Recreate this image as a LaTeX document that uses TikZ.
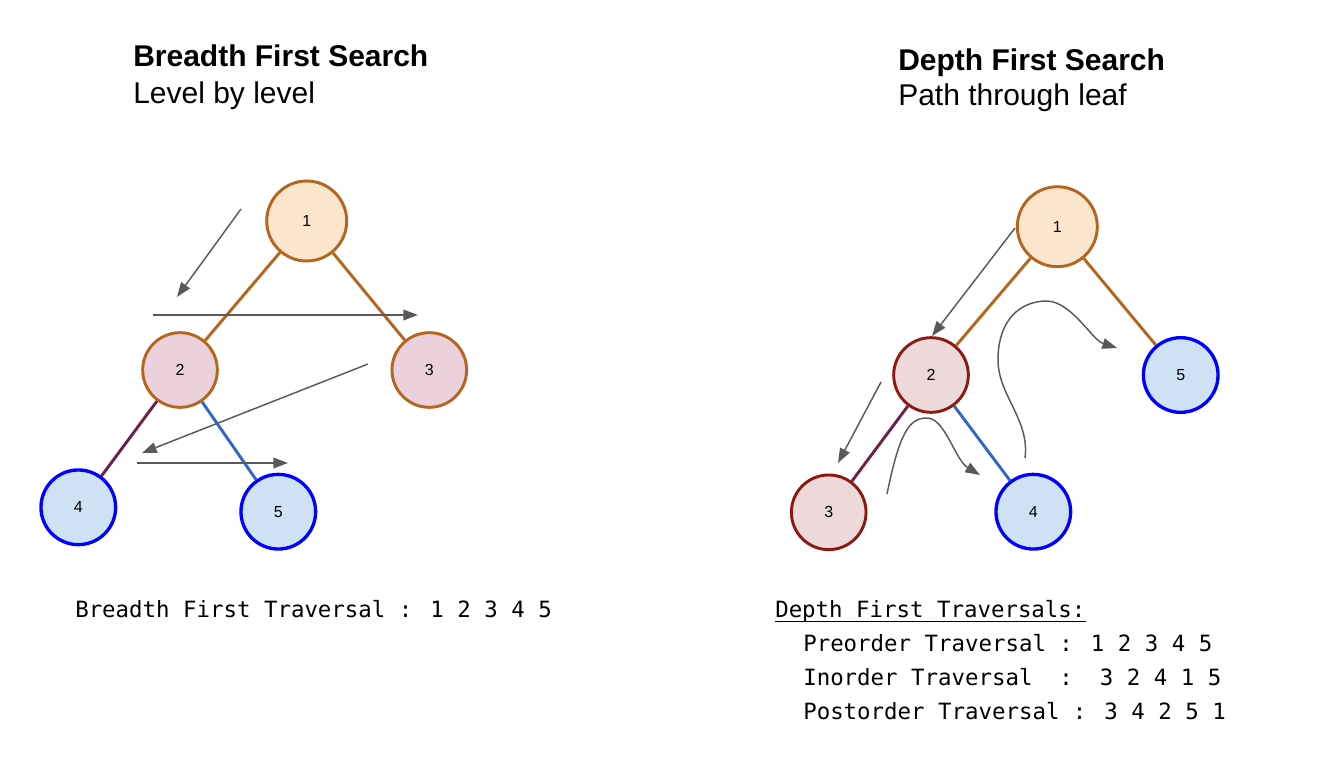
\documentclass[tikz,border=0pt]{standalone}
\usepackage{fontspec}
\setmainfont{Liberation Sans}
\newfontfamily\monofont{DejaVu Sans Mono}
\usetikzlibrary{arrows.meta}
\definecolor{orbrd}{HTML}{B4661F}
\definecolor{orfill}{HTML}{FCE5CD}
\definecolor{magfill}{HTML}{EAD1DC}
\definecolor{bluefill}{HTML}{CFE2F3}
\definecolor{leafbrd}{HTML}{0000FF}
\definecolor{purpedge}{HTML}{6B2246}
\definecolor{blueedge}{HTML}{3366CC}
\definecolor{redfill}{HTML}{EDD9D9}
\definecolor{redbrd}{HTML}{8B1A12}
\definecolor{arrgray}{HTML}{595959}
\begin{document}
\begin{tikzpicture}[x=0.75pt,y=-0.75pt,
  tnode/.style={circle,inner sep=0pt,line width=2.2pt,font=\fontsize{12}{14}\selectfont},
  rootnode/.style={tnode,minimum size=60pt,draw=orbrd,fill=orfill},
  midnode/.style={tnode,minimum size=56pt,draw=orbrd,fill=magfill},
  rednode/.style={tnode,minimum size=56pt,draw=redbrd,fill=redfill},
  leafnode/.style={tnode,minimum size=56pt,draw=leafbrd,fill=bluefill,line width=2.5pt},
  orline/.style={draw=orbrd,line width=2.2pt},
  purline/.style={draw=purpedge,line width=2.2pt},
  bluline/.style={draw=blueedge,line width=2.2pt},
  trav/.style={draw=arrgray,line width=1.1pt,-{Triangle[length=11pt,width=8pt]}},
  title/.style={anchor=base west,inner sep=0pt,font=\fontsize{22.5}{27}\selectfont\bfseries},
  subtitle/.style={anchor=base west,inner sep=0pt,font=\fontsize{22.5}{27}\selectfont},
  mono/.style={anchor=base west,inner sep=0pt,font=\fontsize{16.8}{20}\monofont}
]
\useasboundingbox (0,0) rectangle (1326,770);

% titles
\node[title] (bfst) at (133,67) {Breadth First Search};
\node[subtitle] (bfss) at (133,104) {Level by level};
\node[title] (dfst) at (898,71) {Depth First Search};
\node[subtitle] (dfss) at (898,106) {Path through leaf};

% BFS tree
\node[rootnode] (a1) at (306.7,221) {1};
\node[midnode] (a2) at (180,370) {2};
\node[midnode] (a3) at (429.3,370) {3};
\node[leafnode] (a4) at (78.3,507.3) {4};
\node[leafnode] (a5) at (278.3,511.7) {5};
\draw[orline] (a1) -- (a2);
\draw[orline] (a1) -- (a3);
\draw[purline] (a2) -- (a4);
\draw[bluline] (a2) -- (a5);

\coordinate (ba1) at (241,209);  \coordinate (ba2) at (177,297);
\coordinate (bb1) at (153,315);  \coordinate (bb2) at (418,315);
\coordinate (bc1) at (368,364);  \coordinate (bc2) at (142,453);
\coordinate (bd1) at (137,463);  \coordinate (bd2) at (288,463);
\draw[trav] (ba1) -- (ba2);
\draw[trav] (bb1) -- (bb2);
\draw[trav] (bc1) -- (bc2);
\draw[trav] (bd1) -- (bd2);

% DFS tree
\node[rootnode] (d1) at (1057.3,226.7) {1};
\node[rednode] (d2) at (931,375) {2};
\node[leafnode] (d5) at (1180.7,375) {5};
\node[rednode] (d3) at (828.7,512.3) {3};
\node[leafnode] (d4) at (1033.3,511.7) {4};
\draw[orline] (d1) -- (d2);
\draw[orline] (d1) -- (d5);
\draw[purline] (d2) -- (d3);
\draw[bluline] (d2) -- (d4);

\coordinate (da1) at (1015,228);  \coordinate (da2) at (932,336);
\coordinate (db1) at (881,382);   \coordinate (db2) at (838,463);
\coordinate (dc1) at (887,494);   \coordinate (dc2) at (980,475);
\coordinate (dd1) at (1025,458);  \coordinate (dd2) at (1117,348);
\draw[trav] (da1) -- (da2);
\draw[trav] (db1) -- (db2);
\draw[trav] (dc1) .. controls (900,430) and (910,418) .. (927,418)
  .. controls (945,418) and (955,460) .. (dc2);
\draw[trav] (dd1) .. controls (1030,420) and (998,395) .. (998,360)
  .. controls (998,320) and (1020,301) .. (1047,301)
  .. controls (1072,302) and (1092,340) .. (dd2);

% traversal texts
\node[mono] (bft) at (75,617) {Breadth First Traversal : 1 2 3 4 5};
\node[mono] (dft) at (775,617) {Depth First Traversals:};
\draw[line width=0.9pt] ([yshift=-3.6pt]dft.base west) -- ([yshift=-3.6pt]dft.base east);
\node[mono] (pre) at (803,651) {Preorder Traversal : 1 2 3 4 5};
\node[mono] (ino) at (803,685) {Inorder Traversal~~:~~3 2 4 1 5};
\node[mono] (post) at (803,719) {Postorder Traversal : 3 4 2 5 1};
\end{tikzpicture}
\end{document}
